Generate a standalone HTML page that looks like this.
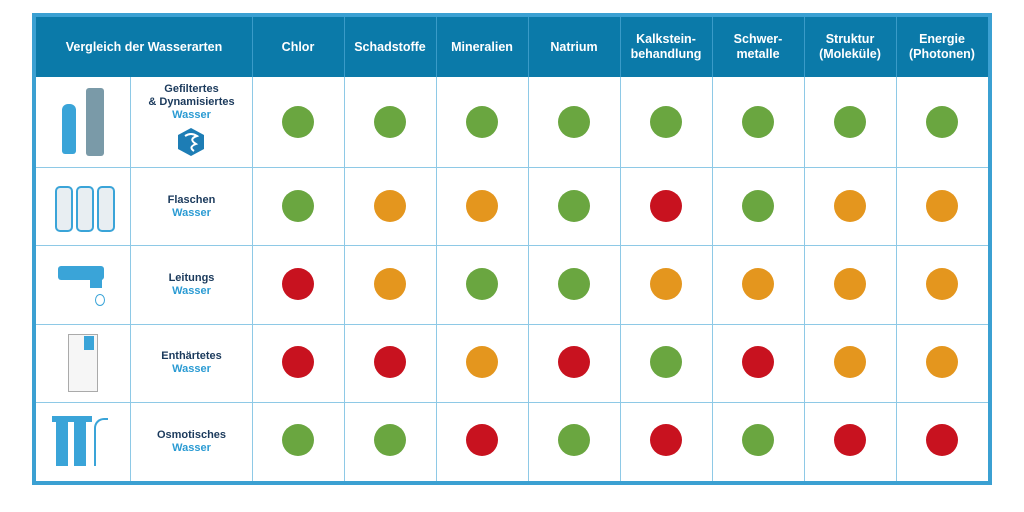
<!DOCTYPE html>
<html><head><meta charset="utf-8"><style>
body{margin:0;width:1024px;height:512px;background:#fff;position:relative;overflow:hidden;font-family:"Liberation Sans",sans-serif;}
.a{position:absolute}
.hd{position:absolute;top:17px;height:60px;color:#fff;font-weight:bold;font-size:12.5px;display:flex;align-items:center;justify-content:center;text-align:center;line-height:15px}
.lb{position:absolute;left:131px;width:121px;text-align:center;font-weight:bold;font-size:11px;line-height:13px;color:#1b3a5c}
.lb span{color:#2b9bd3}
.c{position:absolute;width:32px;height:32px;border-radius:50%}
.g{background:#6aa640}.o{background:#e4961e}.r{background:#c8121f}
.vl{position:absolute;width:1px;background:#8ec9e6}
.hl{position:absolute;height:1px;background:#8ec9e6;left:36px;width:952px}
</style></head><body>
<div class="a" style="left:32px;top:13px;width:952px;height:464px;border:4px solid #3ba0d2;"></div>
<div class="a" style="left:36px;top:17px;width:952px;height:60px;background:#0b7aa9"></div>
<div class="hd" style="left:36px;width:216px">Vergleich der Wasserarten</div>
<div class="hd" style="left:252px;width:92px">Chlor</div>
<div class="hd" style="left:344px;width:92px">Schadstoffe</div>
<div class="hd" style="left:436px;width:92px">Mineralien</div>
<div class="hd" style="left:528px;width:92px">Natrium</div>
<div class="hd" style="left:620px;width:92px">Kalkstein-<br>behandlung</div>
<div class="hd" style="left:712px;width:92px">Schwer-<br>metalle</div>
<div class="hd" style="left:804px;width:92px">Struktur<br>(Moleküle)</div>
<div class="hd" style="left:896px;width:92px">Energie<br>(Photonen)</div>
<!-- header separators -->
<div class="vl" style="left:252px;top:17px;height:60px;background:#3a9bc8"></div>
<div class="vl" style="left:344px;top:17px;height:60px;background:#3a9bc8"></div>
<div class="vl" style="left:436px;top:17px;height:60px;background:#3a9bc8"></div>
<div class="vl" style="left:528px;top:17px;height:60px;background:#3a9bc8"></div>
<div class="vl" style="left:620px;top:17px;height:60px;background:#3a9bc8"></div>
<div class="vl" style="left:712px;top:17px;height:60px;background:#3a9bc8"></div>
<div class="vl" style="left:804px;top:17px;height:60px;background:#3a9bc8"></div>
<div class="vl" style="left:896px;top:17px;height:60px;background:#3a9bc8"></div>
<!-- grid -->
<div class="vl" style="left:130px;top:77px;height:404px"></div>
<div class="vl" style="left:252px;top:77px;height:404px"></div>
<div class="vl" style="left:344px;top:77px;height:404px"></div>
<div class="vl" style="left:436px;top:77px;height:404px"></div>
<div class="vl" style="left:528px;top:77px;height:404px"></div>
<div class="vl" style="left:620px;top:77px;height:404px"></div>
<div class="vl" style="left:712px;top:77px;height:404px"></div>
<div class="vl" style="left:804px;top:77px;height:404px"></div>
<div class="vl" style="left:896px;top:77px;height:404px"></div>
<div class="hl" style="top:167px"></div>
<div class="hl" style="top:245px"></div>
<div class="hl" style="top:324px"></div>
<div class="hl" style="top:402px"></div>
<!-- labels -->
<div class="lb" style="top:83px">Gefiltertes<br>&amp; Dynamisiertes<br><span>Wasser</span></div>
<svg class="a" style="left:176px;top:127px" width="30" height="30"><polygon points="15,1 28,8 28,22 15,29 2,22 2,8" fill="#1d7db5"/><path d="M9 9 Q15 5 21 9 Q12 12 20 17 Q12 20 18 24" stroke="#fff" stroke-width="2" fill="none"/></svg>
<div class="lb" style="top:194px">Flaschen<br><span>Wasser</span></div>
<div class="lb" style="top:272px">Leitungs<br><span>Wasser</span></div>
<div class="lb" style="top:350px">Enthärtetes<br><span>Wasser</span></div>
<div class="lb" style="top:429px">Osmotisches<br><span>Wasser</span></div>
<!-- icons -->
<div class="a" style="left:62px;top:104px;width:14px;height:50px;background:#3aa4d8;border-radius:6px 6px 3px 3px"></div>
<div class="a" style="left:86px;top:88px;width:18px;height:68px;background:#7a9aa8;border-radius:3px"></div>
<div class="a" style="left:55px;top:186px;width:14px;height:42px;border:2px solid #3aa4d8;border-radius:5px;background:#e8eef2"></div>
<div class="a" style="left:76px;top:186px;width:14px;height:42px;border:2px solid #3aa4d8;border-radius:5px;background:#e8eef2"></div>
<div class="a" style="left:97px;top:186px;width:14px;height:42px;border:2px solid #3aa4d8;border-radius:5px;background:#e8eef2"></div>
<div class="a" style="left:58px;top:266px;width:46px;height:14px;background:#3aa4d8;border-radius:3px"></div>
<div class="a" style="left:90px;top:278px;width:12px;height:10px;background:#3aa4d8"></div>
<div class="a" style="left:95px;top:294px;width:8px;height:10px;border:1.5px solid #3aa4d8;border-radius:50% 50% 50% 50%"></div>
<div class="a" style="left:68px;top:334px;width:28px;height:56px;border:1px solid #aaa;background:#f6f6f6"></div>
<div class="a" style="left:84px;top:336px;width:10px;height:14px;background:#3aa4d8"></div>
<div class="a" style="left:52px;top:416px;width:40px;height:6px;background:#3aa4d8"></div>
<div class="a" style="left:56px;top:422px;width:12px;height:44px;background:#3aa4d8"></div>
<div class="a" style="left:74px;top:422px;width:12px;height:44px;background:#3aa4d8"></div>
<div class="a" style="left:94px;top:418px;width:12px;height:46px;border:2px solid #3aa4d8;border-right:none;border-bottom:none;border-radius:10px 0 0 0"></div>
<!-- dots -->
<div id="dots"></div>
<script>
var rows=["GGGGGGGG","GOOGRGOO","ROGGOOOO","RRORGROO","GGRGRGRR"],ys=[122,206,284,362,440];
var h="";rows.forEach(function(r,i){for(var j=0;j<8;j++){h+='<div class="c '+r[j].toLowerCase()+'" style="left:'+(282+92*j)+'px;top:'+(ys[i]-16)+'px"></div>';}});
document.getElementById('dots').innerHTML=h;
</script>
</body></html>
